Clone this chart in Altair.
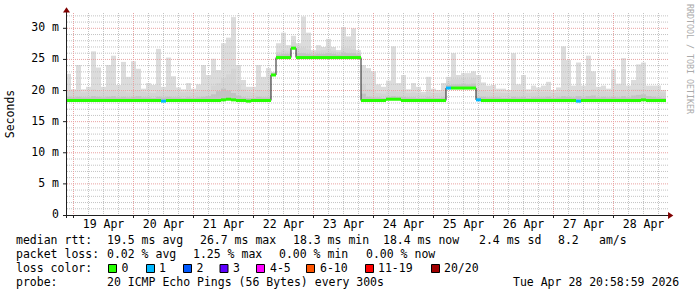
import altair as alt
import pandas as pd

# ---------------- data ----------------
T_START = 21.0      # hours after 18 Apr 00:00 (graph start)
T_END = 261.0       # graph end (28 Apr ~21:00)
BIN_H = 2.0         # each sample covers 2 hours

median_ms = [
    18.4, 18.4, 18.4, 18.4, 18.4, 18.4, 18.4, 18.4, 18.4, 18.4,
    18.4, 18.4, 18.4, 18.4, 18.4, 18.4, 18.4, 18.4, 18.4, 18.3,
    18.4, 18.4, 18.4, 18.4, 18.4, 18.4, 18.4, 18.4, 18.4, 18.4,
    18.4, 18.5, 18.6, 18.5, 18.4, 18.4, 18.3, 18.4, 18.4, 18.4,
    18.4, 22.5, 25.3, 25.3, 25.3, 26.8, 25.3, 25.3, 25.3, 25.3,
    25.3, 25.3, 25.3, 25.3, 25.3, 25.3, 25.3, 25.3, 25.3, 18.4,
    18.4, 18.4, 18.4, 18.4, 18.6, 18.6, 18.6, 18.4, 18.4, 18.4,
    18.4, 18.4, 18.4, 18.4, 18.4, 18.4, 20.4, 20.4, 20.4, 20.4,
    20.4, 20.4, 18.5, 18.4, 18.4, 18.4, 18.4, 18.4, 18.4, 18.4,
    18.4, 18.4, 18.4, 18.4, 18.4, 18.4, 18.4, 18.4, 18.4, 18.4,
    18.4, 18.4, 18.3, 18.4, 18.4, 18.4, 18.4, 18.4, 18.4, 18.4,
    18.4, 18.4, 18.4, 18.4, 18.4, 18.5, 18.4, 18.4, 18.4, 18.4,
]
smoke_max_ms = [
    22.7, 20.2, 24.1, 20.2, 20.6, 26.3, 23.7, 20.6, 24.1, 25.6,
    20.9, 24.6, 22.2, 24.7, 23.5, 20.3, 21.2, 20.9, 26.7, 20.6,
    25.3, 22.3, 20.5, 20.2, 21.2, 20.3, 21.0, 24.1, 22.5, 25.1,
    23.3, 27.6, 28.5, 31.8, 24.1, 21.7, 20.6, 20.6, 24.1, 22.2,
    23.6, 23.0, 27.6, 29.3, 27.3, 28.8, 27.6, 31.9, 29.3, 26.5,
    27.3, 27.0, 28.3, 27.0, 26.5, 30.2, 28.7, 30.0, 26.5, 24.1,
    23.6, 23.1, 21.0, 20.6, 21.6, 27.1, 21.2, 22.5, 20.2, 21.2,
    20.6, 19.8, 22.2, 20.3, 20.1, 21.2, 22.2, 26.0, 22.5, 22.8,
    22.8, 23.1, 22.5, 21.3, 20.8, 20.9, 20.3, 20.3, 20.1, 26.0,
    21.0, 22.5, 20.2, 20.8, 20.5, 20.8, 21.4, 20.1, 20.5, 27.1,
    24.9, 20.8, 24.5, 20.8, 25.6, 23.1, 20.6, 20.8, 20.3, 23.4,
    21.1, 25.2, 20.8, 21.7, 24.2, 24.5, 20.8, 20.8, 20.8, 20.1,
]
smoke_body_ms = [
    20.0, 19.9, 20.0, 19.7, 19.8, 20.2, 20.0, 19.8, 19.9, 20.1,
    19.8, 19.9, 19.7, 20.0, 20.0, 19.8, 19.7, 19.6, 19.9, 19.8,
    20.0, 19.9, 19.8, 19.7, 19.8, 19.7, 19.8, 20.1, 20.0, 20.8,
    21.2, 22.0, 22.6, 23.5, 21.0, 20.2, 19.8, 19.7, 20.1, 19.9,
    20.0, 22.9, 26.2, 26.5, 26.4, 27.8, 26.8, 26.9, 26.6, 26.2,
    26.4, 26.5, 26.7, 26.4, 26.2, 26.9, 26.8, 26.7, 26.0, 21.0,
    20.2, 20.0, 19.6, 19.5, 19.8, 20.0, 19.8, 20.0, 19.6, 19.7,
    19.6, 19.4, 19.8, 19.6, 19.6, 19.8, 21.5, 21.8, 21.8, 22.0,
    21.8, 22.0, 20.0, 20.0, 19.8, 19.7, 19.7, 19.6, 19.6, 19.9,
    19.8, 19.9, 19.6, 19.7, 19.8, 19.8, 19.8, 19.6, 19.7, 20.0,
    20.0, 19.8, 20.0, 19.8, 20.0, 20.2, 19.8, 19.9, 19.8, 19.9,
    19.8, 20.1, 19.8, 20.2, 20.2, 20.2, 20.0, 19.9, 19.8, 19.7,
]
smoke_dense_ms = [
    19.0, 18.9, 19.0, 18.9, 18.9, 19.1, 19.0, 18.9, 19.0, 19.1,
    18.9, 19.0, 18.9, 19.0, 19.1, 18.9, 18.9, 18.8, 19.0, 18.9,
    19.0, 18.9, 18.9, 18.8, 18.9, 18.8, 18.9, 19.0, 19.1, 19.4,
    19.9, 20.3, 20.0, 19.6, 19.2, 18.9, 18.8, 18.8, 19.0, 18.9,
    18.9, 22.7, 25.8, 25.9, 25.9, 27.1, 26.0, 26.0, 25.9, 25.8,
    25.9, 25.9, 26.0, 25.9, 25.8, 26.1, 26.0, 26.0, 25.8, 19.5,
    19.0, 18.9, 18.9, 18.8, 19.0, 19.1, 19.0, 19.0, 18.9, 18.9,
    18.8, 18.8, 18.9, 18.8, 18.8, 18.9, 20.9, 21.0, 21.0, 21.1,
    21.0, 21.1, 19.0, 19.0, 18.9, 18.9, 18.9, 18.8, 18.8, 19.0,
    18.9, 19.0, 18.8, 18.9, 18.9, 18.9, 19.0, 18.8, 18.9, 19.1,
    19.0, 18.9, 19.1, 18.9, 19.1, 19.2, 18.9, 19.0, 18.9, 19.0,
    18.9, 19.1, 18.9, 19.2, 19.3, 19.4, 19.1, 19.0, 18.9, 18.8,
]
loss_one_bins = [19, 76, 82, 102]   # samples with 1/20 packet loss

day_labels = ["19 Apr", "20 Apr", "21 Apr", "22 Apr", "23 Apr",
              "24 Apr", "25 Apr", "26 Apr", "27 Apr", "28 Apr"]
y_tick_values = [0, 5, 10, 15, 20, 25, 30]
y_tick_labels = ["0\u00a0", "5 m", "10 m", "15 m", "20 m", "25 m", "30 m"]

loss_names = ["0", "1", "2", "3", "4-5", "6-10", "11-19", "20/20"]
loss_colors = ["#26ff00", "#00b8ff", "#0059ff", "#5e00ff", "#ff00ff",
               "#ff5500", "#ff0000", "#a00000"]

# ---------------- layout constants ----------------
W, H = 600, 202
LEFT, TOP = 66, 13
PX_PER_MS = 6.223
FONT = "DejaVu Sans Mono"
FS = 11.5

rows = []
for i, m in enumerate(median_ms):
    t0 = T_START + i * BIN_H
    rows.append(dict(t0=t0, t1=t0 + BIN_H, med=m, mx=smoke_max_ms[i],
                     body=smoke_body_ms[i], dense=smoke_dense_ms[i],
                     loss="1" if i in loss_one_bins else "0"))
df = pd.DataFrame(rows)
line_df = pd.DataFrame({"t": list(df["t0"]) + [df["t1"].iloc[-1]],
                        "m": list(df["med"]) + [df["med"].iloc[-1]]})

xs = alt.Scale(domain=[T_START, T_END], nice=False, zero=False)
ys = alt.Scale(domain=[0, H / PX_PER_MS], nice=False, zero=False)

def X(f):
    return alt.X(f, type="quantitative", scale=xs, axis=None)

def Y(f):
    return alt.Y(f, type="quantitative", scale=ys, axis=None)

layers = []
# smoke
for col, colr in [("mx", "#dcdcdc"), ("body", "#d5d5d5"), ("dense", "#c3c3c3")]:
    layers.append(alt.Chart(df).mark_rect(color=colr).encode(
        x=X("t0"), x2="t1", y=Y("med"), y2=col))

# grid
hmin = pd.DataFrame({"v": [v for v in range(1, 33) if v % 5 != 0]})
hmaj = pd.DataFrame({"v": [v for v in range(5, 31, 5)]})
vall = [h for h in range(24, 261, 6)]
vmin = pd.DataFrame({"h": [h for h in vall if h % 24 != 0]})
vmaj = pd.DataFrame({"h": [h for h in vall if h % 24 == 0]})
GRAY, RED = "#c4c4c4", "#e9a3a3"
layers.append(alt.Chart(hmin).mark_rule(color=GRAY, strokeDash=[1, 1]).encode(
    y=Y("v"), x=alt.value(1), x2=alt.value(W + 2)))
layers.append(alt.Chart(vmin).mark_rule(color=GRAY, strokeDash=[1, 1]).encode(
    x=X("h"), y=alt.value(0), y2=alt.value(H)))
layers.append(alt.Chart(hmaj).mark_rule(color=RED, strokeDash=[1, 1]).encode(
    y=Y("v"), x=alt.value(1), x2=alt.value(W + 2)))
layers.append(alt.Chart(vmaj).mark_rule(color=RED, strokeDash=[1, 1]).encode(
    x=X("h"), y=alt.value(0), y2=alt.value(H)))

# median
layers.append(alt.Chart(line_df).mark_line(interpolate="step-after", color="#202020",
                                           strokeWidth=1).encode(x=X("t"), y=Y("m")))
layers.append(alt.Chart(df).mark_rule(strokeWidth=3).encode(
    x=X("t0"), x2="t1", y=Y("med"),
    color=alt.Color("loss:N", scale=alt.Scale(domain=loss_names, range=loss_colors),
                    legend=None)))

# axes
one = pd.DataFrame({"a": [0]})
AX = "#202020"
layers.append(alt.Chart(one).mark_rule(color=AX).encode(
    x=alt.value(-3), x2=alt.value(W + 4), y=alt.value(H + 0.5)))
layers.append(alt.Chart(one).mark_rule(color=AX).encode(
    x=alt.value(0.5), y=alt.value(-3), y2=alt.value(H + 3)))
layers.append(alt.Chart(hmaj).mark_rule(color=AX).encode(
    y=Y("v"), x=alt.value(-3), x2=alt.value(0.5)))
layers.append(alt.Chart(vmaj).mark_rule(color=AX).encode(
    x=X("h"), y=alt.value(H + 0.5), y2=alt.value(H + 3)))
layers.append(alt.Chart(one).mark_point(shape="M-1,0.7L1,0.7L0,-0.8Z", filled=True,
                                        size=49, color="#800000", opacity=1).encode(
    x=alt.value(0.5), y=alt.value(-3)))
layers.append(alt.Chart(one).mark_point(shape="M-0.7,-1L-0.7,1L0.8,0Z", filled=True,
                                        size=49, color="#800000", opacity=1).encode(
    x=alt.value(W + 4.5), y=alt.value(H + 0.5)))

# tick labels
xl = pd.DataFrame({"h": [36 + 24 * k for k in range(len(day_labels))], "lab": day_labels})
layers.append(alt.Chart(xl).mark_text(font=FONT, fontSize=FS, align="center",
                                      baseline="middle", color="#000000").encode(
    x=X("h"), y=alt.value(225 - TOP), text="lab:N"))
yl = pd.DataFrame({"v": y_tick_values, "lab": y_tick_labels})
layers.append(alt.Chart(yl).mark_text(font=FONT, fontSize=FS, align="right",
                                      baseline="middle", color="#000000").encode(
    y=Y("v"), x=alt.value(59 - LEFT), text="lab:N"))

def txt(s, px, py, **kw):
    opts = dict(font=FONT, fontSize=FS, align="left", baseline="middle", color="#000000")
    opts.update(kw)
    return alt.Chart(one).mark_text(**opts).encode(
        x=alt.value(px - LEFT), y=alt.value(py - TOP), text=alt.value(s))

layers.append(txt("Seconds", 10.5, 114, angle=270, align="center"))
layers.append(txt("RRDTOOL / TOBI OETIKER", 688.5, 59, angle=90, align="center",
                  fontSize=8.3, color="#aaaaaa"))

# legend text
R1, R2, R3, R4 = 241, 255, 268.5, 282.5
legend_items = [
    ("median rtt:", 16, R1), ("19.5 ms avg", 107, R1), ("26.7 ms max", 200, R1),
    ("18.3 ms min", 293, R1), ("18.4 ms now", 383, R1), ("2.4 ms sd", 479, R1),
    ("8.2", 558, R1), ("am/s", 599, R1),
    ("packet loss:", 16, R2), ("0.02 % avg", 107, R2), ("1.25 % max", 193, R2),
    ("0.00 % min", 279, R2), ("0.00 % now", 366, R2),
    ("loss color:", 16, R3),
    ("probe:", 16, R4), ("20 ICMP Echo Pings (56 Bytes) every 300s", 107, R4),
    ("Tue Apr 28 20:58:59 2026", 513, R4),
]
for s, px, py in legend_items:
    layers.append(txt(s, px, py))

box_x = [108, 146, 183, 219.5, 256, 306, 365, 431]
lab_x = [121.5, 159, 196.5, 233, 270, 320, 378, 444]
for name, colr, bx, lx in zip(loss_names, loss_colors, box_x, lab_x):
    layers.append(alt.Chart(one).mark_rect(color=colr, stroke="#000000", strokeWidth=1).encode(
        x=alt.value(bx + 0.5 - LEFT), x2=alt.value(bx + 8.5 - LEFT),
        y=alt.value(264.5 - TOP), y2=alt.value(272.5 - TOP)))
    layers.append(txt(name, lx, R3))

chart = alt.layer(*layers).properties(
    width=W, height=H, autosize="none",
    padding={"left": LEFT, "top": TOP, "right": 697 - LEFT - W, "bottom": 297 - TOP - H},
    background="#ffffff",
).configure_view(strokeWidth=0)

chart.save("out.html", embed_options={"renderer": "svg", "actions": False})
